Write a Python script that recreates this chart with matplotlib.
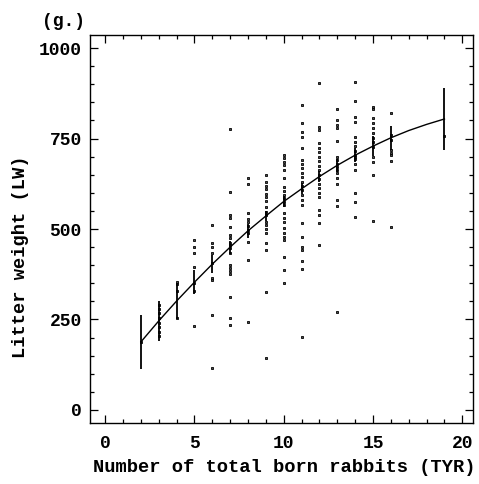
import matplotlib
matplotlib.use("Agg")
import matplotlib.pyplot as plt
from matplotlib.ticker import MultipleLocator

# observed litter weights (g.) for each number of total born rabbits
obs = {
    2: [188],
    3: [290, 280, 268, 255, 240, 228, 215, 205],
    4: [354, 348, 329, 254],
    5: [470, 450, 433, 395, 351, 329, 232],
    6: [511, 461, 450, 433, 406, 365, 359, 262, 116],
    7: [776, 603, 540, 530, 506, 483, 475, 462, 455, 447, 435, 400, 392, 383, 375, 313, 254, 235],
    8: [641, 624, 544, 528, 518, 508, 498, 490, 465, 414, 244],
    9: [649, 630, 620, 610, 598, 588, 578, 560, 548, 540, 520, 510, 500, 490, 461, 442, 327, 144],
    10: [704, 695, 686, 677, 663, 640, 616, 605, 595, 585, 575, 566, 544, 530, 519, 503,
         490, 478, 470, 423, 387, 351],
    11: [843, 793, 768, 754, 724, 691, 680, 668, 655, 643, 630, 620, 608, 595, 580, 566,
         516, 478, 450, 442, 411, 390, 202],
    12: [903, 782, 773, 737, 725, 712, 700, 688, 675, 663, 650, 638, 625, 612, 600, 588,
         552, 540, 516, 455],
    13: [831, 801, 787, 779, 743, 699, 690, 680, 670, 663, 655, 641, 624, 580, 564, 270],
    14: [905, 854, 809, 796, 754, 740, 728, 716, 705, 699, 693, 680, 663, 599, 575, 533],
    15: [837, 831, 807, 793, 780, 765, 751, 740, 727, 699, 685, 649, 522],
    16: [820, 760, 745, 718, 710, 704, 688, 506],
    19: [757],
}

# fitted curve
fit_x = [2, 3, 4, 5, 6, 7, 8, 9, 10, 11, 12, 13, 14, 15, 16, 17, 18, 19]
fit_y = [188, 246, 301, 353, 403, 450, 495, 536, 576, 611, 645, 676, 704, 729, 752, 772, 789, 804]

# half length of the vertical bars around the curve
bar_x = [2, 3, 4, 5, 6, 7, 8, 9, 10, 11, 12, 13, 14, 15, 16, 19]
bar_half = [75, 55, 50, 33, 25, 18, 20, 15, 15, 15, 15, 18, 20, 28, 33, 85]

plt.rcParams['font.family'] = ['Liberation Mono', 'DejaVu Sans Mono']
plt.rcParams['font.weight'] = 'bold'

fig = plt.figure(figsize=(4.79, 4.84), dpi=100)
ax = fig.add_axes([90 / 479, 61 / 484, 383 / 479, 388 / 484])

# scatter of single litters
for k, vals in obs.items():
    ax.plot([k] * len(vals), vals, linestyle='none', marker='s', markersize=2.1,
            markerfacecolor='0.3', markeredgecolor='black', markeredgewidth=0.6)

ax.plot(fit_x, fit_y, color='black', linewidth=1.0)

bar_mid = [fit_y[fit_x.index(b)] for b in bar_x]
ax.errorbar(bar_x, bar_mid, yerr=bar_half, fmt='none', ecolor='black',
            elinewidth=1.3, capsize=0)

ax.set_xlim(-0.85, 20.6)
ax.set_ylim(-36, 1036)
ax.xaxis.set_major_locator(MultipleLocator(5))
ax.xaxis.set_minor_locator(MultipleLocator(1))
ax.yaxis.set_major_locator(MultipleLocator(250))
ax.yaxis.set_minor_locator(MultipleLocator(50))
ax.tick_params(which='both', direction='in', top=True, right=True, width=0.9,
               labelsize=13)
ax.tick_params(which='major', length=6)
ax.tick_params(which='minor', length=3)
ax.tick_params(axis='x', pad=9)
ax.tick_params(axis='y', pad=6)
for s in ax.spines.values():
    s.set_linewidth(1.0)

fig.text(284 / 479, 1 - 468 / 484, 'Number of total born rabbits (TYR)',
         ha='center', va='center', fontsize=13.5, fontweight='bold')
fig.text(21 / 479, 1 - 257 / 484, 'Litter weight (LW)', rotation=90,
         ha='center', va='center', fontsize=13.5, fontweight='bold')
fig.text(64 / 479, 1 - 21 / 484, '(g.)', ha='center', va='center',
         fontsize=13, fontweight='bold')

fig.savefig('out.png', dpi=100)
